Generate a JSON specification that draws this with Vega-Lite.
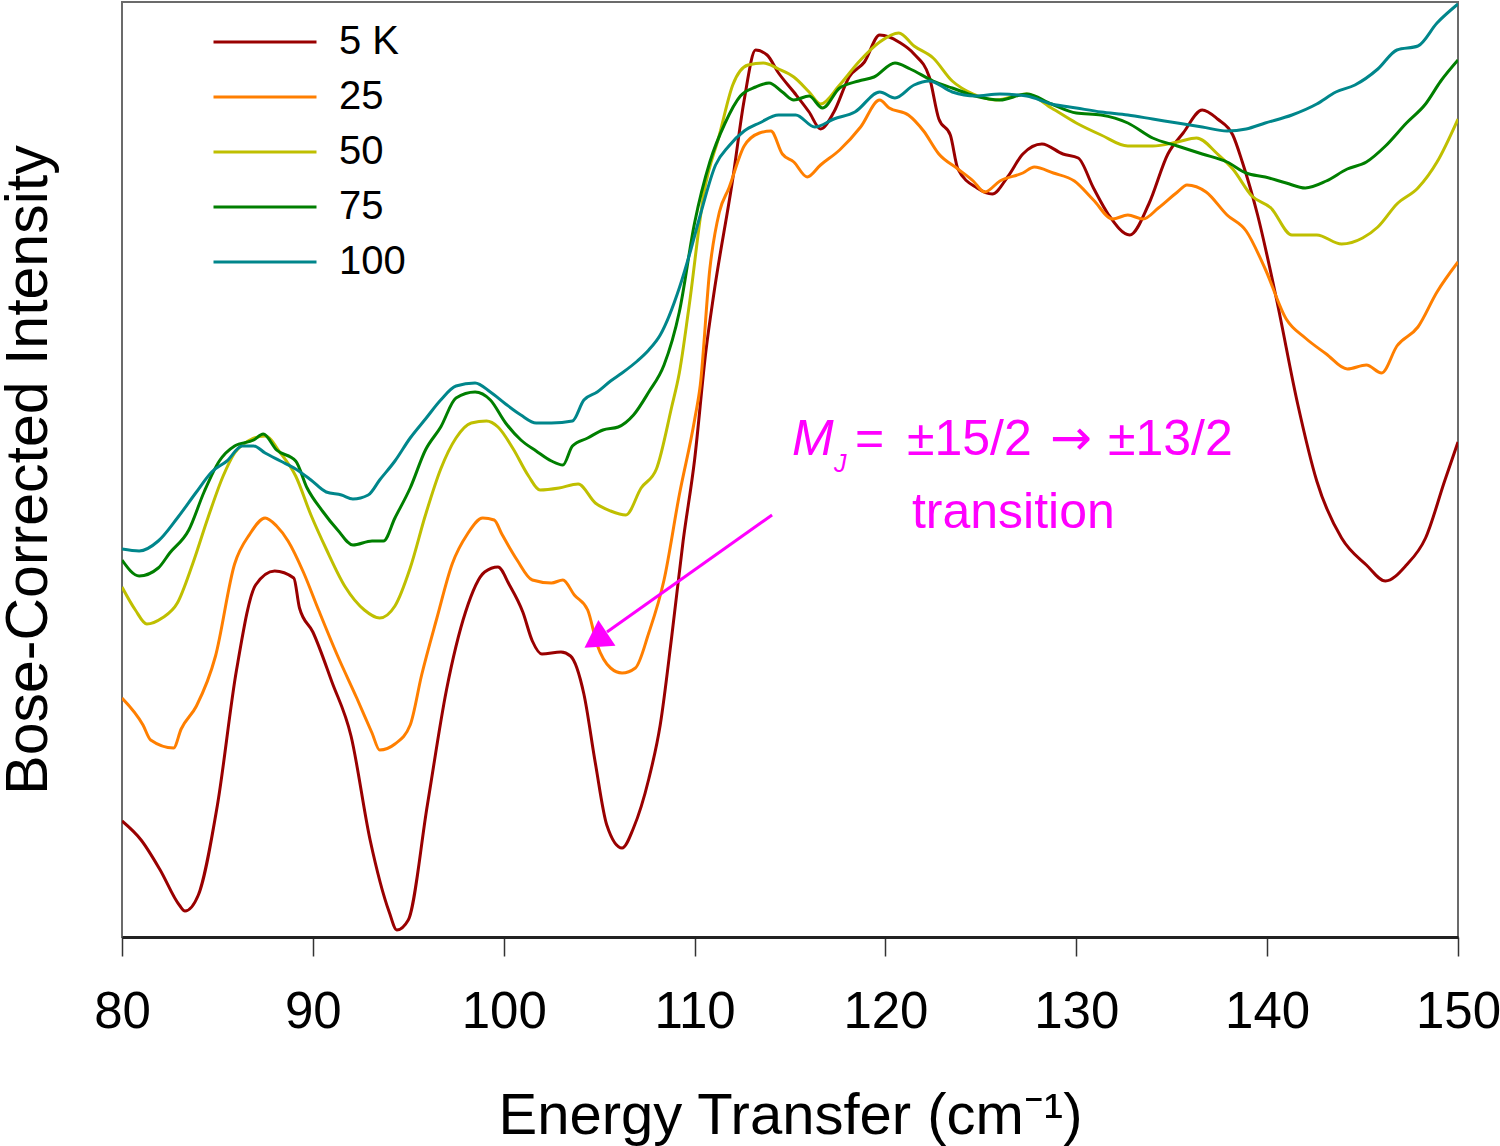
{
  "$schema": "https://vega.github.io/schema/vega-lite/v6.json",
  "width": 1336,
  "height": 935,
  "autosize": {"type": "none"},
  "padding": {"left": 122, "top": 2, "right": 42, "bottom": 209},
  "background": "white",
  "config": {
    "font": "Liberation Sans",
    "view": {"stroke": "#6b6b6b", "strokeWidth": 2},
    "legend": {
      "orient": "none", "legendX": 90, "legendY": 20, "padding": 0,
      "symbolType": "stroke", "symbolSize": 10609, "symbolStrokeWidth": 3,
      "labelFontSize": 40, "labelFont": "Liberation Sans", "labelColor": "black",
      "labelOffset": 21, "rowPadding": 15, "clipHeight": 40, "titleFontSize": 0
    }
  },
  "layer": [
    {
      "data": {"values": [
{"E":80,"I":116,"T":"5 K"},{"E":81,"I":97,"T":"5 K"},{"E":82,"I":67,"T":"5 K"},{"E":83,"I":32,"T":"5 K"},{"E":83.3,"I":26,"T":"5 K"},{"E":84,"I":42,"T":"5 K"},{"E":85,"I":132,"T":"5 K"},{"E":86,"I":267,"T":"5 K"},{"E":87,"I":352,"T":"5 K"},{"E":88,"I":366,"T":"5 K"},{"E":89,"I":359,"T":"5 K"},{"E":89.3,"I":329,"T":"5 K"},{"E":90,"I":305,"T":"5 K"},{"E":91,"I":255,"T":"5 K"},{"E":92,"I":201,"T":"5 K"},{"E":93,"I":97,"T":"5 K"},{"E":94,"I":25,"T":"5 K"},{"E":94.4,"I":7,"T":"5 K"},{"E":95,"I":17,"T":"5 K"},{"E":96,"I":132,"T":"5 K"},{"E":97,"I":247,"T":"5 K"},{"E":98,"I":325,"T":"5 K"},{"E":99,"I":365,"T":"5 K"},{"E":99.7,"I":370,"T":"5 K"},{"E":100.3,"I":352,"T":"5 K"},{"E":101,"I":325,"T":"5 K"},{"E":101.5,"I":296,"T":"5 K"},{"E":102,"I":283,"T":"5 K"},{"E":103,"I":285,"T":"5 K"},{"E":103.5,"I":281,"T":"5 K"},{"E":104.2,"I":243,"T":"5 K"},{"E":104.8,"I":174,"T":"5 K"},{"E":105.4,"I":112,"T":"5 K"},{"E":106.2,"I":89,"T":"5 K"},{"E":106.8,"I":109,"T":"5 K"},{"E":107.6,"I":158,"T":"5 K"},{"E":108.2,"I":212,"T":"5 K"},{"E":108.8,"I":300,"T":"5 K"},{"E":109.4,"I":396,"T":"5 K"},{"E":110,"I":477,"T":"5 K"},{"E":110.6,"I":587,"T":"5 K"},{"E":111,"I":642,"T":"5 K"},{"E":112,"I":758,"T":"5 K"},{"E":112.6,"I":837,"T":"5 K"},{"E":113.2,"I":887,"T":"5 K"},{"E":113.8,"I":882,"T":"5 K"},{"E":114.4,"I":864,"T":"5 K"},{"E":115.2,"I":845,"T":"5 K"},{"E":116,"I":825,"T":"5 K"},{"E":116.6,"I":808,"T":"5 K"},{"E":117.3,"I":825,"T":"5 K"},{"E":118.1,"I":860,"T":"5 K"},{"E":118.9,"I":875,"T":"5 K"},{"E":119.7,"I":902,"T":"5 K"},{"E":120.2,"I":900,"T":"5 K"},{"E":120.7,"I":895,"T":"5 K"},{"E":121.5,"I":883,"T":"5 K"},{"E":122.3,"I":860,"T":"5 K"},{"E":122.8,"I":818,"T":"5 K"},{"E":123.4,"I":802,"T":"5 K"},{"E":123.8,"I":768,"T":"5 K"},{"E":124.8,"I":749,"T":"5 K"},{"E":125.6,"I":743,"T":"5 K"},{"E":126.4,"I":760,"T":"5 K"},{"E":127.2,"I":783,"T":"5 K"},{"E":128.2,"I":793,"T":"5 K"},{"E":129.3,"I":783,"T":"5 K"},{"E":130.1,"I":779,"T":"5 K"},{"E":130.9,"I":749,"T":"5 K"},{"E":131.7,"I":722,"T":"5 K"},{"E":132.8,"I":702,"T":"5 K"},{"E":133.8,"I":733,"T":"5 K"},{"E":134.8,"I":783,"T":"5 K"},{"E":135.6,"I":804,"T":"5 K"},{"E":136.6,"I":827,"T":"5 K"},{"E":137.4,"I":818,"T":"5 K"},{"E":138.2,"I":802,"T":"5 K"},{"E":138.7,"I":775,"T":"5 K"},{"E":139.5,"I":722,"T":"5 K"},{"E":140.5,"I":637,"T":"5 K"},{"E":141.6,"I":533,"T":"5 K"},{"E":142.6,"I":456,"T":"5 K"},{"E":143.9,"I":399,"T":"5 K"},{"E":145.2,"I":372,"T":"5 K"},{"E":146.2,"I":356,"T":"5 K"},{"E":147.3,"I":372,"T":"5 K"},{"E":148.3,"I":399,"T":"5 K"},{"E":149.3,"I":456,"T":"5 K"},{"E":150,"I":495,"T":"5 K"},
{"E":80,"I":239,"T":"25"},{"E":81.1,"I":212,"T":"25"},{"E":81.5,"I":197,"T":"25"},{"E":82.7,"I":189,"T":"25"},{"E":83.1,"I":208,"T":"25"},{"E":83.9,"I":231,"T":"25"},{"E":84.9,"I":281,"T":"25"},{"E":85.9,"I":373,"T":"25"},{"E":86.7,"I":403,"T":"25"},{"E":87.5,"I":419,"T":"25"},{"E":88.1,"I":411,"T":"25"},{"E":88.7,"I":396,"T":"25"},{"E":89.5,"I":365,"T":"25"},{"E":90.3,"I":327,"T":"25"},{"E":91.3,"I":281,"T":"25"},{"E":92.3,"I":239,"T":"25"},{"E":93.1,"I":204,"T":"25"},{"E":93.5,"I":187,"T":"25"},{"E":94.3,"I":193,"T":"25"},{"E":95.1,"I":212,"T":"25"},{"E":95.7,"I":262,"T":"25"},{"E":96.5,"I":319,"T":"25"},{"E":97.3,"I":373,"T":"25"},{"E":98.1,"I":403,"T":"25"},{"E":98.9,"I":419,"T":"25"},{"E":99.5,"I":417,"T":"25"},{"E":99.9,"I":403,"T":"25"},{"E":100.7,"I":377,"T":"25"},{"E":101.5,"I":357,"T":"25"},{"E":102.5,"I":354,"T":"25"},{"E":103.1,"I":357,"T":"25"},{"E":103.7,"I":342,"T":"25"},{"E":104.4,"I":327,"T":"25"},{"E":104.9,"I":292,"T":"25"},{"E":105.6,"I":269,"T":"25"},{"E":106.2,"I":264,"T":"25"},{"E":106.9,"I":269,"T":"25"},{"E":107.6,"I":304,"T":"25"},{"E":108.4,"I":357,"T":"25"},{"E":109.2,"I":442,"T":"25"},{"E":110,"I":517,"T":"25"},{"E":110.3,"I":552,"T":"25"},{"E":110.8,"I":668,"T":"25"},{"E":111.3,"I":725,"T":"25"},{"E":111.8,"I":749,"T":"25"},{"E":112.6,"I":791,"T":"25"},{"E":113.4,"I":804,"T":"25"},{"E":114,"I":806,"T":"25"},{"E":114.6,"I":783,"T":"25"},{"E":115.2,"I":775,"T":"25"},{"E":115.9,"I":760,"T":"25"},{"E":116.6,"I":772,"T":"25"},{"E":117.6,"I":787,"T":"25"},{"E":118.7,"I":810,"T":"25"},{"E":119.7,"I":837,"T":"25"},{"E":120.2,"I":829,"T":"25"},{"E":121.2,"I":822,"T":"25"},{"E":122,"I":806,"T":"25"},{"E":122.8,"I":783,"T":"25"},{"E":123.8,"I":768,"T":"25"},{"E":124.6,"I":756,"T":"25"},{"E":125.2,"I":745,"T":"25"},{"E":126,"I":756,"T":"25"},{"E":127.2,"I":764,"T":"25"},{"E":127.8,"I":770,"T":"25"},{"E":128.8,"I":764,"T":"25"},{"E":129.9,"I":756,"T":"25"},{"E":130.9,"I":737,"T":"25"},{"E":131.9,"I":718,"T":"25"},{"E":132.7,"I":722,"T":"25"},{"E":133.5,"I":718,"T":"25"},{"E":134.3,"I":729,"T":"25"},{"E":135.3,"I":745,"T":"25"},{"E":135.8,"I":752,"T":"25"},{"E":136.8,"I":745,"T":"25"},{"E":137.9,"I":722,"T":"25"},{"E":138.9,"I":706,"T":"25"},{"E":139.9,"I":668,"T":"25"},{"E":141,"I":618,"T":"25"},{"E":142,"I":599,"T":"25"},{"E":143.1,"I":583,"T":"25"},{"E":144.2,"I":568,"T":"25"},{"E":145.2,"I":572,"T":"25"},{"E":146,"I":564,"T":"25"},{"E":146.8,"I":591,"T":"25"},{"E":147.9,"I":610,"T":"25"},{"E":148.9,"I":645,"T":"25"},{"E":150,"I":675,"T":"25"},
{"E":80,"I":350,"T":"50"},{"E":80.7,"I":327,"T":"50"},{"E":81.3,"I":313,"T":"50"},{"E":82.1,"I":319,"T":"50"},{"E":82.9,"I":334,"T":"50"},{"E":83.7,"I":373,"T":"50"},{"E":84.5,"I":419,"T":"50"},{"E":85.3,"I":461,"T":"50"},{"E":85.9,"I":484,"T":"50"},{"E":86.7,"I":497,"T":"50"},{"E":87.5,"I":501,"T":"50"},{"E":88.3,"I":484,"T":"50"},{"E":89.1,"I":461,"T":"50"},{"E":89.9,"I":422,"T":"50"},{"E":90.7,"I":388,"T":"50"},{"E":91.7,"I":350,"T":"50"},{"E":92.7,"I":327,"T":"50"},{"E":93.5,"I":319,"T":"50"},{"E":94.3,"I":331,"T":"50"},{"E":95.1,"I":369,"T":"50"},{"E":95.9,"I":422,"T":"50"},{"E":96.7,"I":468,"T":"50"},{"E":97.5,"I":499,"T":"50"},{"E":98.3,"I":514,"T":"50"},{"E":99.1,"I":516,"T":"50"},{"E":99.7,"I":510,"T":"50"},{"E":100.5,"I":488,"T":"50"},{"E":101.3,"I":461,"T":"50"},{"E":101.9,"I":447,"T":"50"},{"E":102.9,"I":449,"T":"50"},{"E":103.9,"I":453,"T":"50"},{"E":104.8,"I":434,"T":"50"},{"E":105.6,"I":426,"T":"50"},{"E":106.4,"I":422,"T":"50"},{"E":107.2,"I":449,"T":"50"},{"E":108,"I":468,"T":"50"},{"E":108.8,"I":530,"T":"50"},{"E":109.2,"I":564,"T":"50"},{"E":109.7,"I":629,"T":"50"},{"E":110.5,"I":745,"T":"50"},{"E":111.3,"I":802,"T":"50"},{"E":112,"I":852,"T":"50"},{"E":112.8,"I":872,"T":"50"},{"E":113.6,"I":874,"T":"50"},{"E":114.4,"I":868,"T":"50"},{"E":115.2,"I":860,"T":"50"},{"E":116,"I":845,"T":"50"},{"E":116.6,"I":833,"T":"50"},{"E":117.6,"I":852,"T":"50"},{"E":118.6,"I":875,"T":"50"},{"E":119.7,"I":895,"T":"50"},{"E":120.7,"I":904,"T":"50"},{"E":121.5,"I":891,"T":"50"},{"E":122.5,"I":879,"T":"50"},{"E":123.5,"I":856,"T":"50"},{"E":124.6,"I":843,"T":"50"},{"E":125.8,"I":837,"T":"50"},{"E":127.4,"I":843,"T":"50"},{"E":128.7,"I":829,"T":"50"},{"E":130,"I":814,"T":"50"},{"E":131.3,"I":802,"T":"50"},{"E":132.7,"I":791,"T":"50"},{"E":134,"I":791,"T":"50"},{"E":135.3,"I":795,"T":"50"},{"E":136.3,"I":799,"T":"50"},{"E":137.4,"I":783,"T":"50"},{"E":138.2,"I":768,"T":"50"},{"E":139.2,"I":741,"T":"50"},{"E":140.2,"I":729,"T":"50"},{"E":141.3,"I":702,"T":"50"},{"E":142.6,"I":702,"T":"50"},{"E":143.9,"I":693,"T":"50"},{"E":145,"I":699,"T":"50"},{"E":145.8,"I":710,"T":"50"},{"E":146.8,"I":733,"T":"50"},{"E":147.9,"I":749,"T":"50"},{"E":148.9,"I":775,"T":"50"},{"E":150,"I":818,"T":"50"},
{"E":80,"I":377,"T":"75"},{"E":80.9,"I":361,"T":"75"},{"E":81.9,"I":369,"T":"75"},{"E":82.5,"I":384,"T":"75"},{"E":83.5,"I":407,"T":"75"},{"E":84.3,"I":445,"T":"75"},{"E":85.1,"I":476,"T":"75"},{"E":85.9,"I":491,"T":"75"},{"E":86.9,"I":497,"T":"75"},{"E":87.4,"I":503,"T":"75"},{"E":88.1,"I":487,"T":"75"},{"E":89.1,"I":476,"T":"75"},{"E":89.7,"I":449,"T":"75"},{"E":90.5,"I":426,"T":"75"},{"E":91.3,"I":407,"T":"75"},{"E":92.1,"I":392,"T":"75"},{"E":93.1,"I":396,"T":"75"},{"E":93.7,"I":396,"T":"75"},{"E":94.3,"I":419,"T":"75"},{"E":95.1,"I":449,"T":"75"},{"E":95.9,"I":487,"T":"75"},{"E":96.7,"I":510,"T":"75"},{"E":97.5,"I":539,"T":"75"},{"E":98.5,"I":545,"T":"75"},{"E":99.3,"I":537,"T":"75"},{"E":100.1,"I":514,"T":"75"},{"E":100.9,"I":497,"T":"75"},{"E":101.7,"I":486,"T":"75"},{"E":102.5,"I":476,"T":"75"},{"E":103.1,"I":472,"T":"75"},{"E":103.6,"I":491,"T":"75"},{"E":104.4,"I":499,"T":"75"},{"E":105.2,"I":507,"T":"75"},{"E":106,"I":510,"T":"75"},{"E":106.8,"I":522,"T":"75"},{"E":107.6,"I":545,"T":"75"},{"E":108.4,"I":572,"T":"75"},{"E":109.2,"I":625,"T":"75"},{"E":110,"I":714,"T":"75"},{"E":110.8,"I":775,"T":"75"},{"E":111.6,"I":814,"T":"75"},{"E":112.4,"I":841,"T":"75"},{"E":113.2,"I":850,"T":"75"},{"E":113.9,"I":854,"T":"75"},{"E":114.6,"I":845,"T":"75"},{"E":115.2,"I":837,"T":"75"},{"E":116,"I":841,"T":"75"},{"E":116.7,"I":829,"T":"75"},{"E":117.6,"I":849,"T":"75"},{"E":118.6,"I":856,"T":"75"},{"E":119.4,"I":860,"T":"75"},{"E":120.5,"I":874,"T":"75"},{"E":121.3,"I":868,"T":"75"},{"E":122.5,"I":856,"T":"75"},{"E":123.5,"I":849,"T":"75"},{"E":124.7,"I":841,"T":"75"},{"E":126,"I":837,"T":"75"},{"E":127.4,"I":843,"T":"75"},{"E":128.7,"I":833,"T":"75"},{"E":130,"I":824,"T":"75"},{"E":131.3,"I":822,"T":"75"},{"E":132.7,"I":814,"T":"75"},{"E":134,"I":799,"T":"75"},{"E":135.3,"I":791,"T":"75"},{"E":136.6,"I":783,"T":"75"},{"E":137.9,"I":775,"T":"75"},{"E":138.9,"I":764,"T":"75"},{"E":139.9,"I":760,"T":"75"},{"E":141,"I":754,"T":"75"},{"E":142,"I":749,"T":"75"},{"E":143.1,"I":756,"T":"75"},{"E":144.2,"I":768,"T":"75"},{"E":145.2,"I":775,"T":"75"},{"E":146.2,"I":791,"T":"75"},{"E":147.3,"I":814,"T":"75"},{"E":148.3,"I":833,"T":"75"},{"E":149.1,"I":856,"T":"75"},{"E":150,"I":877,"T":"75"},
{"E":80,"I":388,"T":"100"},{"E":80.9,"I":386,"T":"100"},{"E":81.9,"I":396,"T":"100"},{"E":82.9,"I":419,"T":"100"},{"E":83.9,"I":445,"T":"100"},{"E":84.7,"I":465,"T":"100"},{"E":85.5,"I":476,"T":"100"},{"E":86.3,"I":491,"T":"100"},{"E":86.9,"I":491,"T":"100"},{"E":87.5,"I":484,"T":"100"},{"E":88.3,"I":476,"T":"100"},{"E":89.1,"I":468,"T":"100"},{"E":89.9,"I":457,"T":"100"},{"E":90.7,"I":445,"T":"100"},{"E":91.5,"I":442,"T":"100"},{"E":92.1,"I":438,"T":"100"},{"E":92.9,"I":442,"T":"100"},{"E":93.5,"I":457,"T":"100"},{"E":94.3,"I":476,"T":"100"},{"E":95.1,"I":499,"T":"100"},{"E":95.9,"I":518,"T":"100"},{"E":96.7,"I":537,"T":"100"},{"E":97.5,"I":551,"T":"100"},{"E":98.5,"I":554,"T":"100"},{"E":99.3,"I":545,"T":"100"},{"E":100.1,"I":533,"T":"100"},{"E":100.9,"I":522,"T":"100"},{"E":101.7,"I":514,"T":"100"},{"E":102.5,"I":514,"T":"100"},{"E":103.6,"I":516,"T":"100"},{"E":104.2,"I":537,"T":"100"},{"E":104.9,"I":545,"T":"100"},{"E":105.6,"I":556,"T":"100"},{"E":106.2,"I":564,"T":"100"},{"E":107,"I":576,"T":"100"},{"E":107.6,"I":587,"T":"100"},{"E":108.2,"I":602,"T":"100"},{"E":109.2,"I":649,"T":"100"},{"E":109.8,"I":687,"T":"100"},{"E":110.3,"I":722,"T":"100"},{"E":111.1,"I":772,"T":"100"},{"E":111.8,"I":791,"T":"100"},{"E":112.6,"I":806,"T":"100"},{"E":113.4,"I":814,"T":"100"},{"E":114.4,"I":822,"T":"100"},{"E":115.3,"I":822,"T":"100"},{"E":116.3,"I":810,"T":"100"},{"E":117.3,"I":818,"T":"100"},{"E":118.4,"I":825,"T":"100"},{"E":119.7,"I":845,"T":"100"},{"E":120.5,"I":839,"T":"100"},{"E":121.5,"I":852,"T":"100"},{"E":122.3,"I":856,"T":"100"},{"E":123.5,"I":845,"T":"100"},{"E":124.7,"I":841,"T":"100"},{"E":126,"I":843,"T":"100"},{"E":127.4,"I":841,"T":"100"},{"E":128.7,"I":833,"T":"100"},{"E":130,"I":829,"T":"100"},{"E":131.3,"I":825,"T":"100"},{"E":132.7,"I":822,"T":"100"},{"E":134,"I":818,"T":"100"},{"E":135.3,"I":814,"T":"100"},{"E":136.6,"I":810,"T":"100"},{"E":137.9,"I":806,"T":"100"},{"E":138.9,"I":808,"T":"100"},{"E":139.9,"I":814,"T":"100"},{"E":141.3,"I":822,"T":"100"},{"E":142.6,"I":833,"T":"100"},{"E":143.6,"I":845,"T":"100"},{"E":144.6,"I":852,"T":"100"},{"E":145.8,"I":868,"T":"100"},{"E":146.8,"I":887,"T":"100"},{"E":147.9,"I":891,"T":"100"},{"E":148.9,"I":914,"T":"100"},{"E":150,"I":933,"T":"100"}
      ]},
      "mark": {"type": "line", "strokeWidth": 3, "clip": true, "interpolate": "monotone"},
      "encoding": {
        "x": {"field": "E", "type": "quantitative",
          "scale": {"domain": [80, 150], "nice": false, "zero": false},
          "axis": {"values": [80, 90, 100, 110, 120, 130, 140, 150], "grid": false,
            "tickSize": 19, "tickWidth": 1.5, "tickColor": "#333",
            "domainColor": "#222", "domainWidth": 3,
            "labelFontSize": 51, "labelColor": "black", "labelPadding": 31, "labelFont": "Liberation Sans",
            "labelFlush": false, "labelOverlap": false,
            "title": "Energy Transfer (cm⁻¹)", "titleFontSize": 58, "titleFontWeight": "normal",
            "titleColor": "black", "titleFont": "Liberation Sans", "titleBaseline": "alphabetic", "titleY": 196}},
        "y": {"field": "I", "type": "quantitative",
          "scale": {"domain": [0, 935], "nice": false, "zero": false},
          "axis": {"ticks": false, "labels": false, "grid": false, "domain": false,
            "title": "Bose-Corrected Intensity", "titleFontSize": 59, "titleFontWeight": "normal",
            "titleColor": "black", "titleFont": "Liberation Sans", "titleBaseline": "alphabetic", "titleX": -76}},
        "color": {"field": "T", "type": "nominal",
          "scale": {"domain": ["5 K", "25", "50", "75", "100"],
                    "range": ["#990000", "#FF7F00", "#BFBF00", "#007F00", "#00868B"]},
          "legend": {"title": null}}
      }
    },
    {
      "data": {"values": [{"x": 114.06, "y": 422, "x2": 105.41, "y2": 305}]},
      "mark": {"type": "rule", "color": "#FF00FF", "strokeWidth": 3},
      "encoding": {
        "x": {"field": "x", "type": "quantitative"},
        "y": {"field": "y", "type": "quantitative"},
        "x2": {"field": "x2"},
        "y2": {"field": "y2"}
      }
    },
    {
      "data": {"values": [{"x": 104.82, "y": 296.7}]},
      "mark": {"type": "point", "shape": "triangle-up", "filled": true, "color": "#FF00FF", "opacity": 1, "size": 961, "angle": 236.6, "strokeWidth": 0},
      "encoding": {
        "x": {"field": "x", "type": "quantitative"},
        "y": {"field": "y", "type": "quantitative"}
      }
    },
    {
      "data": {"values": [
        {"x": 115.10, "y": 482, "t": "M", "s": 50},
        {"x": 117.30, "y": 465, "t": "J", "s": 25}
      ]},
      "mark": {"type": "text", "color": "#FF00FF", "baseline": "alphabetic", "align": "left", "font": "Liberation Sans", "fontStyle": "italic"},
      "encoding": {
        "x": {"field": "x", "type": "quantitative"},
        "y": {"field": "y", "type": "quantitative"},
        "text": {"field": "t"},
        "size": {"field": "s", "type": "quantitative", "scale": null}
      }
    },
    {
      "data": {"values": [
        {"x": 118.405, "y": 482, "t": "="},
        {"x": 121.13, "y": 482, "t": "±15/2"},
        {"x": 131.66, "y": 482, "t": "±13/2"},
        {"x": 121.39, "y": 409, "t": "transition"}
      ]},
      "mark": {"type": "text", "color": "#FF00FF", "baseline": "alphabetic", "align": "left", "font": "Liberation Sans", "fontSize": 50},
      "encoding": {
        "x": {"field": "x", "type": "quantitative"},
        "y": {"field": "y", "type": "quantitative"},
        "text": {"field": "t"}
      }
    },
    {
      "data": {"values": [{"x": 128.62, "y": 482, "t": "→"}]},
      "mark": {"type": "text", "color": "#FF00FF", "baseline": "alphabetic", "align": "left", "font": "DejaVu Sans", "fontSize": 50},
      "encoding": {
        "x": {"field": "x", "type": "quantitative"},
        "y": {"field": "y", "type": "quantitative"},
        "text": {"field": "t"}
      }
    }
  ]
}
